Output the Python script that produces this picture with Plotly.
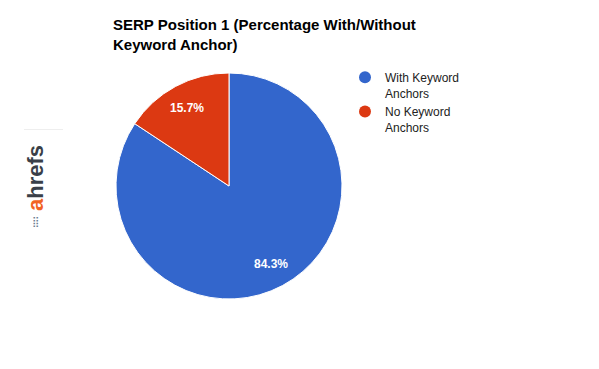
import math
import plotly.graph_objects as go

categories = ["With Keyword Anchors", "No Keyword Anchors"]
legend_labels = ["With Keyword<br>Anchors", "No Keyword<br>Anchors"]
values = [84.3, 15.7]
colors = ["#3366cc", "#dc3912"]

W, H = 599, 369
cx, cy, r = 229, 186, 113
label_frac = 0.78

fig = go.Figure()
fig.add_trace(go.Pie(
    labels=categories, values=values, sort=False, direction="clockwise", rotation=0,
    marker=dict(colors=colors, line=dict(color="white", width=1)),
    textinfo="none", showlegend=False, hoverinfo="label+percent",
    domain=dict(x=[(cx - r) / W, (cx + r) / W], y=[(H - cy - r) / H, (H - cy + r) / H]),
))
for name, col in zip(legend_labels, colors):
    fig.add_trace(go.Scatter(x=[None], y=[None], mode="markers", name=name,
                             marker=dict(color=col, size=12, symbol="circle")))

# slice labels placed at each slice's mid-angle (computed from the values)
total = sum(values)
annotations = []
start = 0.0
for v in values:
    mid = (start + v / 2) / total * 2 * math.pi
    start += v
    px = cx + label_frac * r * math.sin(mid)
    py = cy - label_frac * r * math.cos(mid)
    annotations.append(dict(text=f"<b>{v / total * 100:.1f}%</b>", xref="paper", yref="paper",
                            x=px / W, y=1 - py / H, xanchor="center", yanchor="middle",
                            showarrow=False,
                            font=dict(family="Liberation Sans, Arial", size=12, color="white")))

annotations.append(dict(text="<b><span style='color:#f26322'>a</span>hrefs</b>", textangle=-90,
                        xref="paper", yref="paper", x=36 / W, y=1 - 178 / H,
                        xanchor="center", yanchor="middle", showarrow=False,
                        font=dict(family="Liberation Sans, Arial", size=22, color="#3a3f48")))
annotations.append(dict(text="⣿", xref="paper", yref="paper", x=35 / W, y=1 - 221 / H,
                        xanchor="center", yanchor="middle", showarrow=False,
                        font=dict(family="DejaVu Sans", size=10, color="#6b7a90")))

fig.update_layout(
    width=W, height=H, margin=dict(l=0, r=0, t=0, b=0),
    paper_bgcolor="white", plot_bgcolor="white",
    xaxis=dict(visible=False), yaxis=dict(visible=False),
    title=dict(text="<b>SERP Position 1 (Percentage With/Without<br>Keyword Anchor)</b>",
               x=113 / W, xanchor="left", y=1 - 30 / H, yanchor="top",
               font=dict(family="Liberation Sans, Arial", size=15, color="#000")),
    legend=dict(x=345 / W, y=1 - 63 / H, xanchor="left", yanchor="top", valign="top",
                font=dict(family="Liberation Sans, Arial", size=12, color="#222"),
                bgcolor="rgba(0,0,0,0)", itemwidth=30, tracegroupgap=8),
    shapes=[dict(type="line", xref="paper", yref="paper", x0=24 / W, x1=63 / W,
                 y0=1 - 129.5 / H, y1=1 - 129.5 / H, line=dict(color="#eeeeee", width=1))],
    annotations=annotations,
)
fig.write_html("out.html", config={"displayModeBar": False},
               post_script="document.body.style.margin='0';")
